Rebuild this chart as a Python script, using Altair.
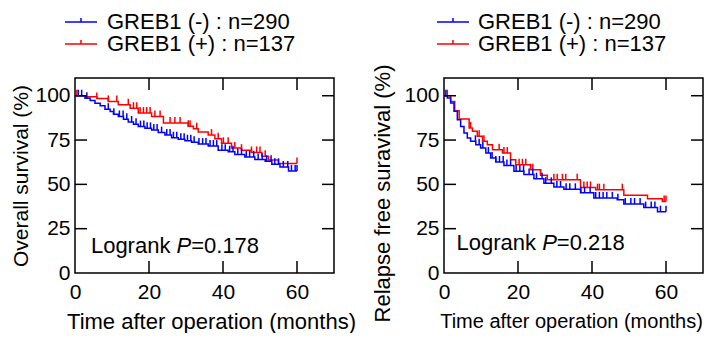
import altair as alt
import pandas as pd

# ---------------- data ----------------
groups = ["GREB1 (-) : n=290", "GREB1 (+) : n=137"]
colors = ["#0000ff", "#ff0000"]

# Overall survival, GREB1 (-)
os_neg_t = [0, 2.7, 4.1, 5.4, 6.8, 8.1, 9.5, 10.4, 11.7, 13.1, 14.4, 15.8, 17.1, 18.9, 20.7, 22.5,
            24.3, 26.1, 27.9, 29.7, 31.5, 33.3, 36.0, 38.7, 41.4, 43.2, 45.9, 48.6, 51.4, 53.2,
            55.4, 57.7, 60]
os_neg_s = [100, 98.6, 97.3, 95.8, 94.3, 92.4, 91.1, 89.6, 88.3, 86.7, 85.2, 83.9, 82.6, 81.6, 80.7,
            79.2, 77.8, 76.3, 75.4, 74.6, 73.7, 72.7, 71.6, 69.3, 68.4, 66.8, 65.5, 64.0, 63.0,
            61.3, 59.8, 57.6, 57.6]
os_neg_c = [0.9, 1.8, 3.2, 9, 10.5, 12, 13, 14, 15.3, 16.5, 17.7, 18.6, 19.5, 20.4, 21.3, 22.2,
            23.4, 24.8, 25.7, 26.6, 27.5, 28.6, 29.5, 30.4, 31.3, 32.2, 33.5, 34.5, 35.4, 36.5,
            37.4, 38.3, 39.7, 40.6, 41.8, 42.7, 44, 45, 46.3, 47.2, 48.3, 49.5, 50.6, 51.8, 53,
            54, 55, 56.3, 57.5, 58.5, 59.5, 60]

# Overall survival, GREB1 (+)
os_pos_t = [0, 3.0, 5.9, 9.0, 11.7, 14.9, 17.1, 20.7, 23.9, 30.6, 32.0, 33.3, 36.0, 37.8, 39.6,
            42.3, 45.0, 47.7, 50.5, 52.3, 55.0, 60]
os_pos_s = [100, 99.4, 98.4, 96.8, 94.9, 93.0, 90.2, 88.3, 84.6, 82.8, 81.4, 79.5, 77.8, 75.8,
            73.2, 70.5, 69.3, 68.0, 65.8, 63.8, 61.8, 61.8]
os_pos_c = [0.5, 5.9, 9, 11.3, 14.4, 15.8, 16.7, 17.6, 18.5, 19.4, 20.3, 21.6, 23, 25.7, 27, 28.4,
            30.6, 31.1, 32.9, 36.9, 38.7, 40.1, 41.4, 43.2, 45, 47.7, 49.1, 50, 51.4, 60]

# Relapse free survival, GREB1 (-)
rfs_neg_t = [0, 0.9, 1.8, 2.7, 3.6, 4.5, 5.4, 6.3, 7.2, 8.6, 9.9, 11.3, 12.6, 14.0, 16.2, 18.9,
             21.6, 24.3, 27.0, 29.7, 32.4, 36.9, 40.5, 46.8, 48.6, 54.0, 57.7, 60]
rfs_neg_s = [100, 98.7, 95.9, 91.2, 86.5, 82.7, 79.0, 76.1, 74.3, 72.4, 70.5, 67.7, 64.9, 62.6,
             60.7, 57.4, 55.6, 53.2, 50.6, 48.5, 47.2, 45.3, 42.3, 41.3, 38.9, 36.9, 34.6, 34.6]
rfs_neg_c = [0.5, 8.5, 9.5, 10.5, 12, 13, 14, 15, 16, 17, 18, 19.5, 20.5, 21.5, 23, 24, 25, 26.5,
             27.5, 29, 30.5, 31.5, 33, 34, 35.5, 37, 38, 39.5, 41, 42, 43, 44, 45.5, 47, 49, 50.5,
             51.5, 53, 54.5, 56, 57, 58.5, 60]

# Relapse free survival, GREB1 (+)
rfs_pos_t = [0, 1.8, 2.9, 4.1, 6.8, 7.7, 9.0, 10.4, 11.7, 13.1, 15.8, 18.0, 19.4, 23.4, 26.1,
             27.9, 36.9, 41.0, 48.6, 55.0, 59.0, 60]
rfs_pos_s = [100, 96.7, 91.5, 86.9, 81.8, 79.9, 77.1, 74.3, 72.4, 69.5, 67.7, 63.9, 61.1, 58.3,
             55.1, 52.6, 48.3, 47.0, 43.8, 41.9, 40.4, 40.4]
rfs_pos_c = [0.9, 7.2, 9.5, 10.8, 14.9, 16.2, 17.1, 20.3, 21.2, 22.1, 23.4, 24, 26.1, 29.7, 30.6,
             32, 32.9, 36, 37.8, 38.7, 39.6, 41.5, 42, 43.2, 48.2, 59.5, 60]

x_ticks = [0, 20, 40, 60]
y_ticks = [0, 25, 50, 75, 100]
inner_x_ticks = [20, 40, 60]
inner_y_ticks = [25, 50, 75, 100]

pvals = ["=0.178", "=0.218"]
ytitles = ["Overall survival (%)", "Relapse free suravival (%)"]
xtitle = "Time after operation (months)"
annot_pos = [(4.3, 11.4), (3.4, 13.0)]

# ---------------- helpers ----------------
W, H = 259, 195
FONT = "Liberation Sans"
FS = 21
AFS = 22
TICK = 12


def step_value(ts, ss, t):
    v = ss[0]
    for ti, si in zip(ts, ss):
        if ti <= t:
            v = si
    return v


def curves_df(neg_t, neg_s, pos_t, pos_s):
    rows = []
    for t, s in zip(pos_t, pos_s):
        rows.append({"t": t, "S": s, "g": groups[1], "o": 0})
    for t, s in zip(neg_t, neg_s):
        rows.append({"t": t, "S": s, "g": groups[0], "o": 1})
    return pd.DataFrame(rows)


def censor_df(neg_t, neg_s, neg_c, pos_t, pos_s, pos_c):
    rows = []
    for c in pos_c:
        rows.append({"t": c, "S": step_value(pos_t, pos_s, c), "g": groups[1]})
    for c in neg_c:
        rows.append({"t": c, "S": step_value(neg_t, neg_s, c), "g": groups[0]})
    return pd.DataFrame(rows)


xs = alt.Scale(domain=[0, 70], nice=False, zero=False)
ys = alt.Scale(domain=[0, 110], nice=False, zero=False)
cs = alt.Scale(domain=groups, range=colors)


def panel(cdf, kdf, ytitle, pval, ann, ytitle_pad, ytitle_y, ytitle_fs, xtitle_fs, xtitle_x,
          legx, lab_off):
    xaxis = alt.Axis(values=x_ticks, title=xtitle, labelPadding=8, titlePadding=9,
                     titleFontSize=xtitle_fs, titleX=xtitle_x, ticks=False, domain=False,
                     grid=False, labelFlush=False)
    yaxis = alt.Axis(values=y_ticks, title=ytitle, labelPadding=5, titlePadding=ytitle_pad,
                     titleY=ytitle_y, titleFontSize=ytitle_fs, ticks=False, domain=False,
                     grid=False, labelFlush=False)
    X = alt.X("t:Q", scale=xs, axis=xaxis)
    Y = alt.Y("S:Q", scale=ys, axis=yaxis)

    legend = alt.Legend(orient="none", legendX=legx, legendY=-67, title=None,
                        symbolType="M-2,0H2M0,0V-0.5", symbolSize=256, symbolStrokeWidth=1.5,
                        symbolFillColor="transparent", labelFontSize=22, labelFont=FONT,
                        labelColor="black", labelOffset=lab_off, rowPadding=0, padding=0,
                        labelLimit=400)

    lines = alt.Chart(cdf).mark_line(interpolate="step-after", strokeWidth=1.5).encode(
        x=X, y=Y, color=alt.Color("g:N", scale=cs, legend=legend), order="o:Q"
    )
    cens = alt.Chart(kdf).mark_tick(orient="vertical", size=6, thickness=1.5, yOffset=-3,
                                    opacity=1).encode(
        x=X, y=Y, color=alt.Color("g:N", scale=cs, legend=legend)
    )
    xt = pd.DataFrame({"t": inner_x_ticks})
    yt = pd.DataFrame({"S": inner_y_ticks})
    rule = dict(color="black", strokeWidth=1.5)
    bot = alt.Chart(xt).mark_rule(**rule).encode(x=X, y=alt.value(H), y2=alt.value(H - TICK))
    top = alt.Chart(xt).mark_rule(**rule).encode(x=X, y=alt.value(0), y2=alt.value(TICK))
    left = alt.Chart(yt).mark_rule(**rule).encode(y=Y, x=alt.value(0), x2=alt.value(TICK))
    right = alt.Chart(yt).mark_rule(**rule).encode(y=Y, x=alt.value(W), x2=alt.value(W - TICK))

    adf = pd.DataFrame({"t": [ann[0]], "S": [ann[1]]})
    tbase = alt.Chart(adf)
    t1 = tbase.mark_text(text="Logrank ", align="left", baseline="alphabetic", fontSize=AFS,
                         font=FONT, color="black").encode(x=X, y=Y)
    wlog = 3.891 * AFS
    t2 = tbase.mark_text(text="P", align="left", baseline="alphabetic", fontSize=AFS, font=FONT,
                         fontStyle="italic", color="black", dx=wlog).encode(x=X, y=Y)
    t3 = tbase.mark_text(text=pval, align="left", baseline="alphabetic", fontSize=AFS, font=FONT,
                         color="black", dx=wlog + 0.667 * AFS).encode(x=X, y=Y)

    return alt.layer(lines, cens, bot, top, left, right, t1, t2, t3).properties(width=W, height=H)


os_c = curves_df(os_neg_t, os_neg_s, os_pos_t, os_pos_s)
os_k = censor_df(os_neg_t, os_neg_s, os_neg_c, os_pos_t, os_pos_s, os_pos_c)
rfs_c = curves_df(rfs_neg_t, rfs_neg_s, rfs_pos_t, rfs_pos_s)
rfs_k = censor_df(rfs_neg_t, rfs_neg_s, rfs_neg_c, rfs_pos_t, rfs_pos_s, rfs_pos_c)

p1 = panel(os_c, os_k, ytitles[0], pvals[0], annot_pos[0], 3, H / 2, 21, 22, 136, -5, 15)
p2 = panel(rfs_c, rfs_k, ytitles[1], pvals[1], annot_pos[1], 9, 115, 22, 20, 127, -2, 14)

chart = alt.hconcat(p1, p2, spacing=14).resolve_legend(color="independent").properties(
    padding={"left": 2, "top": 2, "right": 0, "bottom": 0},
    background="white",
).configure_view(stroke="black", strokeWidth=1.5).configure_axis(
    labelFont=FONT, labelFontSize=FS, labelColor="black", titleFont=FONT, titleFontSize=FS,
    titleColor="black", titleFontWeight="normal"
)

chart.save("out.html", embed_options={"renderer": "svg", "actions": False})
